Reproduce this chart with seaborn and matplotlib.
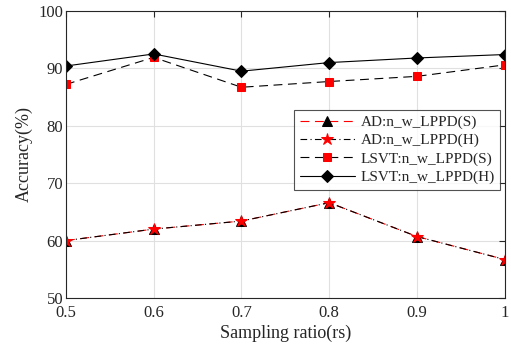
import numpy as np
import pandas as pd
import matplotlib
matplotlib.use("Agg")
import matplotlib.pyplot as plt
import seaborn as sns

ratio = [0.5, 0.6, 0.7, 0.8, 0.9, 1.0]
ad_s = [60.0, 62.0, 63.4, 66.6, 60.7, 56.7]
ad_h = [60.0, 62.0, 63.4, 66.6, 60.7, 56.7]
lsvt_s = [87.2, 91.9, 86.7, 87.7, 88.6, 90.6]
lsvt_h = [90.4, 92.5, 89.5, 91.0, 91.8, 92.4]

sns.set_style("white")
plt.rcParams['font.family'] = ['Liberation Serif', 'DejaVu Serif']

STYLE = [
    ("AD:n_w_LPPD(S)", ad_s, dict(color="red", linestyle=(0, (8, 5)), marker="^", markerfacecolor="black", markeredgecolor="black", markersize=7)),
    ("AD:n_w_LPPD(H)", ad_h, dict(color="black", linestyle="-.", marker="*", markerfacecolor="red", markeredgecolor="red", markersize=9, dashes=(6, 3, 1, 3))),
    ("LSVT:n_w_LPPD(S)", lsvt_s, dict(color="black", linestyle=(0, (8, 5)), marker="s", markerfacecolor="red", markeredgecolor="red", markersize=6)),
    ("LSVT:n_w_LPPD(H)", lsvt_h, dict(color="black", linestyle="-", marker="D", markerfacecolor="black", markeredgecolor="black", markersize=6.5)),
]

fig = plt.figure(figsize=(5.11, 3.51), dpi=100)
ax = fig.add_axes([0.129, 0.151, 0.859, 0.818])

for label, vals, kw in STYLE:
    df = pd.DataFrame({"ratio": ratio, "acc": vals})
    dashes = kw.pop("dashes", None)
    sns.lineplot(x="ratio", y="acc", data=df, ax=ax, label=label, linewidth=0.8, **kw)
    if dashes is not None:
        ax.lines[-1].set_dashes(dashes)

ax.set_xlim(0.5, 1.0)
ax.set_ylim(50, 100)
ax.set_xticks(ratio)
ax.set_xticklabels(["0.5", "0.6", "0.7", "0.8", "0.9", "1"])
ax.set_yticks([50, 60, 70, 80, 90, 100])
ax.grid(True, color="#e0e0e0", linewidth=0.8)
ax.tick_params(direction="in", top=True, right=True, labelsize=12, length=4)
ax.tick_params(axis="y", pad=2)
ax.tick_params(axis="x", pad=5)
for s in ax.spines.values():
    s.set_linewidth(0.8)
    s.set_color("#262626")
ax.set_xlabel("Sampling ratio(rs)", fontsize=13, labelpad=3)
ax.set_ylabel("Accuracy(%)", fontsize=13, labelpad=4)

leg = ax.legend(loc="upper right", bbox_to_anchor=(0.997, 0.666), fontsize=11, frameon=True,
                fancybox=False, handlelength=3.6, borderpad=0.35, labelspacing=0.3, handletextpad=0.4,
                borderaxespad=0.2)
leg.get_frame().set_edgecolor("#262626")
leg.get_frame().set_linewidth(0.8)

fig.savefig("out.png", dpi=100)
